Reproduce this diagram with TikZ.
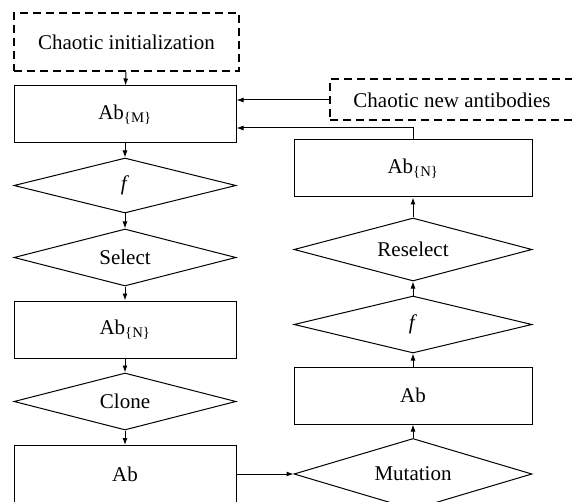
\documentclass[tikz,border=0pt]{standalone}
\usepackage{fontspec}
\setmainfont{Liberation Serif}
\usetikzlibrary{shapes.geometric,arrows.meta}
\begin{document}
\begin{tikzpicture}[x=1pt, y=-1pt, font=\fontsize{21}{25}\selectfont,
		stepbox/.style={rectangle, draw=black, line width=1pt, inner sep=0pt},
		chaosbox/.style={rectangle, draw=black, line width=2pt, dash pattern=on 8pt off 5pt, inner sep=0pt},
		choice/.style={diamond, draw=black, line width=1pt, aspect=4, inner sep=0pt},
		flow/.style={line width=1pt, -{Latex[length=7pt,width=5pt]}}]
	\useasboundingbox (0,0) rectangle (572,502);

	% Left column (selection)
	\node[chaosbox, minimum width=225pt, minimum height=58pt] (init) at (126.5,42) {Chaotic initialization};
	\node[stepbox, minimum width=222pt, minimum height=57pt] (abM) at (125,114.5) {Ab\textsubscript{\{M\}}};
	\node[choice, minimum width=222pt, minimum height=55pt] (fL) at (125,185.5) {\textit{f}};
	\node[choice, minimum width=222pt, minimum height=57pt] (select) at (125,257.5) {Select};
	\node[stepbox, minimum width=222pt, minimum height=57pt] (abNL) at (125,329.5) {Ab\textsubscript{\{N\}}};
	\node[choice, minimum width=222pt, minimum height=57pt] (clone) at (125,401.5) {Clone};
	\node[stepbox, minimum width=222pt, minimum height=57pt] (abL) at (125,474) {Ab};

	% Right column (mutation and reselection)
	\node[chaosbox, minimum width=244pt, minimum height=41pt] (newab) at (452,100) {Chaotic new antibodies};
	\node[stepbox, minimum width=238pt, minimum height=57pt] (abNR) at (413,168.5) {Ab\textsubscript{\{N\}}};
	\node[choice, minimum width=238pt, minimum height=63pt] (reselect) at (413,249.5) {Reselect};
	\node[choice, minimum width=238pt, minimum height=57pt] (fR) at (413,324.5) {\textit{f}};
	\node[stepbox, minimum width=238pt, minimum height=57pt] (abR) at (413,395.5) {Ab};
	\node[choice, minimum width=238pt, minimum height=71pt] (mutation) at (413,474) {Mutation};

	% Downward flow
	\draw[flow] (init) -- (abM);
	\draw[flow] (abM) -- (fL);
	\draw[flow] (fL) -- (select);
	\draw[flow] (select) -- (abNL);
	\draw[flow] (abNL) -- (clone);
	\draw[flow] (clone) -- (abL);

	% Across and upward flow
	\draw[flow] (abL.east) -- (mutation.west);
	\draw[flow] (mutation) -- (abR);
	\draw[flow] (abR) -- (fR);
	\draw[flow] (fR) -- (reselect);
	\draw[flow] (reselect) -- (abNR);

	% Feedback into the population
	\draw[flow] (newab.west) -- (newab.west -| abM.east);
	\draw[flow] (abNR.north) |- ([yshift=-13.5pt]abM.east);
\end{tikzpicture}
\end{document}
